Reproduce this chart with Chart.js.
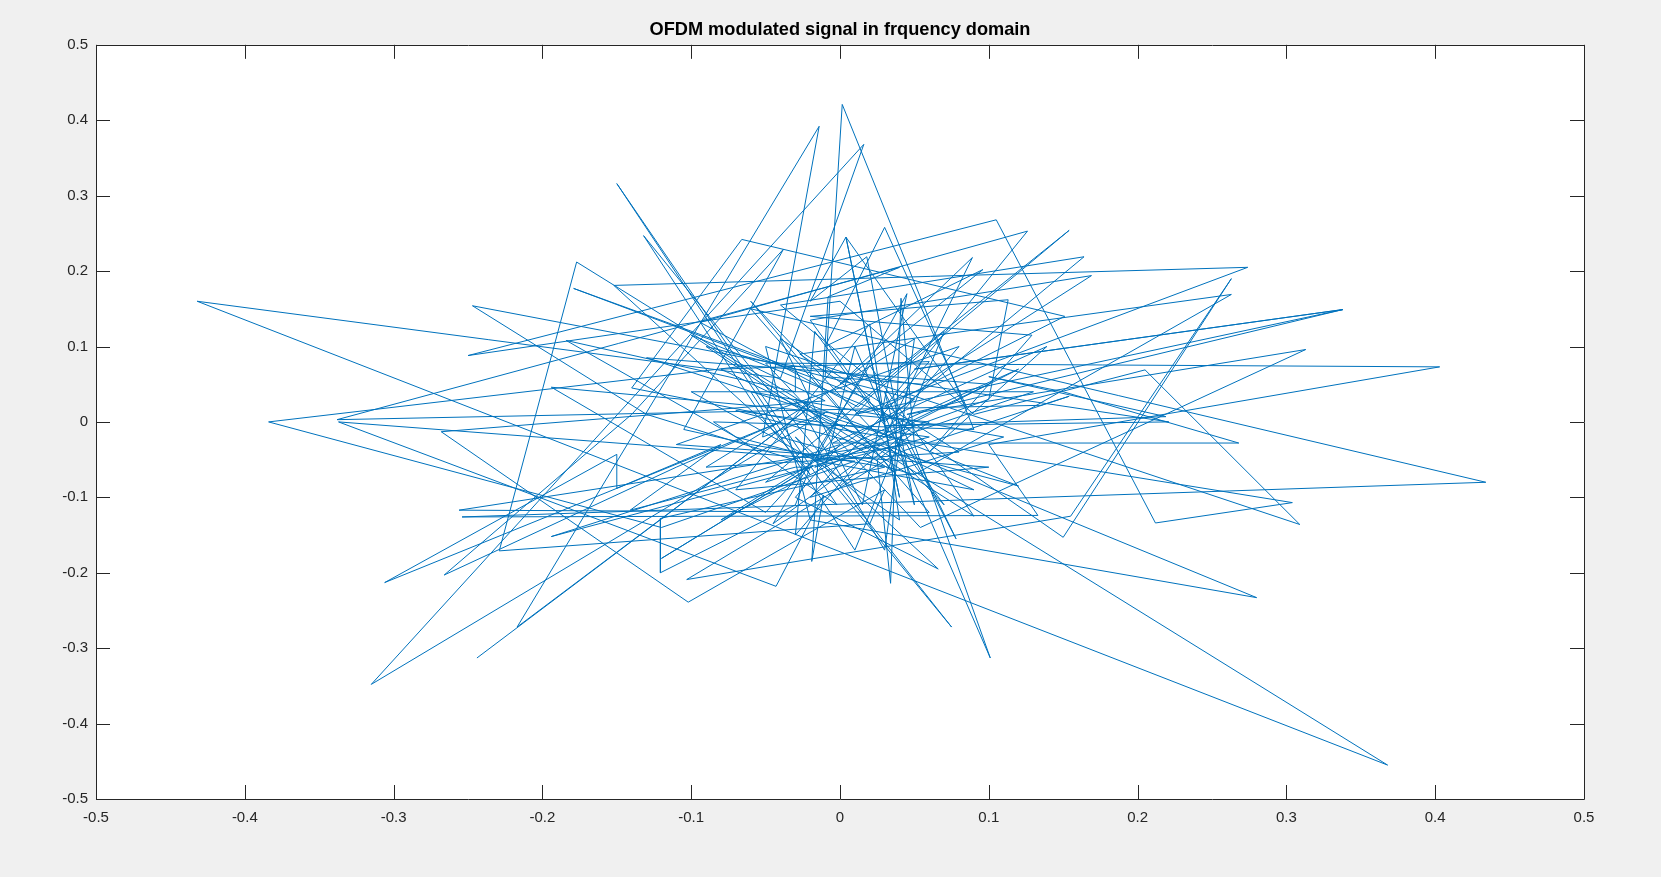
<!DOCTYPE html>
<html>
<head>
<meta charset="utf-8">
<script src="https://cdn.jsdelivr.net/npm/chart.js@4"></script>
<style>
  html, body { margin: 0; padding: 0; background: #f0f0f0; }
  canvas { display: block; }
</style>
</head>
<body>
<canvas id="ofdm" width="1661" height="877"></canvas>
<script>
const title = 'OFDM modulated signal in frquency domain';
const tickValues = [-0.5, -0.4, -0.3, -0.2, -0.1, 0, 0.1, 0.2, 0.3, 0.4, 0.5];

const re = [
  -0.244, -0.020, -0.217, -0.014, -0.052, -0.010, -0.315, 0.016, -0.040, -0.432, 0.368, -0.177,
  -0.229, 0.020, 0.030, -0.102, -0.268, -0.010, -0.060, -0.384, -0.120, 0.010,
  -0.337, -0.043, -0.011, -0.019, -0.008, 0.040, -0.338, 0.135, 0.154, 0.040,
  -0.103, 0.155, 0.263, 0.150, -0.027, 0.263, 0.050, -0.040, -0.152, 0.274,
  0.010, 0.338, 0.050, 0.338, 0.045, 0.313, 0.054, -0.050, 0.403, 0.100,
  0.133, -0.254, 0.434, -0.060, 0.060, -0.256, 0.030, 0.280, -0.020, -0.050,
  0.309, 0.205, 0.090, 0.000, -0.250, 0.105, 0.212, 0.304, 0.000, -0.140,
  -0.066, 0.151, 0.030, 0.126, -0.094, 0.012, 0.154, 0.025, -0.040, 0.164,
  0.030, -0.020, 0.169, 0.055, -0.010, 0.0015, 0.090, -0.085,
  -0.002, -0.150, -0.020, -0.050, -0.132, -0.010, -0.070, -0.184, -0.030, -0.030,
  -0.179, 0.020, -0.050, -0.194, 0.060, 0.025, 0.034, 0.041, 0.050, 0.101,
  0.010, -0.010, 0.075, -0.030, 0.066, -0.030, 0.000, -0.194, -0.020, -0.030,
  -0.141, -0.080, -0.150, -0.150, -0.306, -0.040, -0.110, -0.266, -0.140, -0.038,
  -0.105, -0.060, 0.030, -0.1207, -0.1207, -0.030, -0.020, -0.120, -0.018, -0.130,
  -0.247, -0.050, 0.221, 0.030, 0.219, 0.100, 0.150, 0.268, -0.005, 0.139,
  0.060, 0.129, -0.020, 0.113, 0.100, 0.030, 0.089, 0.000, 0.096, -0.010,
  0.030, 0.085, 0.004, 0.040, 0.004, -0.020, 0.018, 0.050, 0.030, 0.078,
  0.045,
  -0.017, 0.120, -0.080, 0.050, -0.090, 0.035, -0.060, 0.070, -0.017, -0.030,
  0.080, -0.110, 0.100, -0.070, 0.020, 0.040, -0.017, -0.100, 0.130, -0.050,
  0.070, 0.010, -0.060, 0.110, -0.020, 0.060, -0.080, 0.090, -0.017, 0.045,
  0.015, -0.040, 0.080, -0.090, 0.050, 0.030, -0.030, 0.120, -0.070, 0.060,
  -0.017, 0.100, -0.130, 0.035, -0.045, 0.020, 0.090, -0.100, 0.050, 0.000
];
const im = [
  -0.313, 0.020, -0.272, 0.392, -0.020, 0.012, -0.348, 0.368, 0.058, 0.160, -0.455, 0.212,
  -0.171, -0.135, -0.090, -0.239, -0.013, 0.028, 0.075, 0.000, -0.140, -0.052,
  0.000, -0.218, -0.097, -0.185, 0.166, 0.205, 0.003, 0.022, 0.034, -0.040,
  -0.209, -0.125, 0.190, -0.153, 0.090, 0.169, -0.070, -0.020, 0.181, 0.205,
  0.010, 0.149, 0.070, 0.149, 0.010, 0.096, -0.140, 0.078, 0.073, -0.030,
  -0.124, -0.126, -0.080, 0.150, -0.120, -0.117, -0.030, -0.233, -0.130, 0.100,
  -0.136, 0.069, 0.010, 0.160, 0.088, 0.268, -0.134, -0.107, -0.010, 0.045,
  0.242, 0.140, 0.020, 0.253, 0.132, 0.020, 0.254, 0.050, 0.155, 0.219,
  0.000, 0.135, 0.194, 0.050, 0.060, 0.421, -0.010, 0.000,
  -0.110, 0.316, -0.070, 0.000, 0.247, -0.050, -0.020, 0.108, 0.040, 0.070,
  0.177, 0.030, -0.120, 0.046, 0.000, -0.050, -0.214, 0.164, -0.030, -0.313,
  0.100, -0.060, -0.272, -0.020, -0.195, -0.100, -0.030, -0.152, -0.060, -0.060,
  -0.117, -0.030, -0.088, -0.043, -0.213, 0.000, -0.060, -0.203, 0.010, 0.229,
  -0.010, -0.030, -0.060, -0.128, -0.200, -0.110, -0.060, -0.181, -0.058, 0.010,
  0.154, 0.080, 0.000, -0.005, 0.007, 0.060, 0.040, -0.028, -0.028, 0.100,
  -0.040, 0.115, 0.140, 0.162, 0.030, -0.020, 0.218, 0.050, 0.202, 0.100,
  0.258, 0.020, 0.245, -0.100, 0.245, 0.160, 0.219, -0.110, 0.040, -0.155,
  -0.030,
  -0.051, 0.070, -0.130, 0.030, 0.100, -0.065, 0.160, -0.110, 0.120, -0.150,
  0.100, -0.030, -0.060, -0.090, 0.130, -0.130, -0.051, 0.040, 0.040, -0.080,
  0.120, -0.170, 0.040, -0.020, -0.100, 0.080, 0.070, -0.090, -0.051, 0.170,
  -0.110, 0.110, -0.040, -0.060, 0.110, -0.170, 0.030, -0.085, 0.015, -0.020,
  -0.060, 0.050, 0.085, -0.020, -0.135, 0.075, -0.125, 0.115, -0.005, -0.085
];

// matlab style box with the ticks pointing inwards
const boxPlugin = {
  id: 'box',
  beforeDraw(chart) {
    const a = chart.chartArea, ctx = chart.ctx;
    ctx.fillStyle = '#ffffff';
    ctx.fillRect(a.left, a.top, a.right - a.left, a.bottom - a.top);
  },
  afterDraw(chart) {
    const a = chart.chartArea, ctx = chart.ctx;
    ctx.save();
    ctx.strokeStyle = '#262626';
    ctx.lineWidth = 1;
    ctx.beginPath();
    ctx.rect(Math.round(a.left) + 0.5, Math.round(a.top) + 0.5,
      Math.round(a.right - a.left), Math.round(a.bottom - a.top));
    tickValues.forEach(v => {
      const x = Math.round(chart.scales.x.getPixelForValue(v)) + 0.5;
      const y = Math.round(chart.scales.y.getPixelForValue(v)) + 0.5;
      ctx.moveTo(x, a.top); ctx.lineTo(x, a.top + 14);
      ctx.moveTo(x, a.bottom); ctx.lineTo(x, a.bottom - 14);
      ctx.moveTo(a.left, y); ctx.lineTo(a.left + 14, y);
      ctx.moveTo(a.right, y); ctx.lineTo(a.right - 14, y);
    });
    ctx.stroke();
    ctx.restore();
  }
};

const tickFont = { family: '"Liberation Sans", Arial, sans-serif', size: 15 };

new Chart(document.getElementById('ofdm'), {
  type: 'scatter',
  data: {
    datasets: [{
      data: re.map((x, i) => ({ x: x, y: im[i] })),
      showLine: true,
      borderColor: '#0072BD',
      borderWidth: 1,
      pointRadius: 0,
      tension: 0
    }]
  },
  options: {
    responsive: false,
    animation: false,
    devicePixelRatio: 1,
    layout: { padding: { top: 0, right: 77, bottom: 0, left: 0 } },
    plugins: {
      legend: { display: false },
      tooltip: { enabled: false },
      title: {
        display: true,
        text: title,
        fullSize: false,
        color: '#000000',
        font: { family: '"Liberation Sans", Arial, sans-serif', size: 18.2, weight: 'bold' },
        padding: { top: 19, bottom: 4 }
      }
    },
    scales: {
      x: {
        type: 'linear',
        min: -0.5,
        max: 0.5,
        afterBuildTicks: s => { s.ticks = tickValues.map(v => ({ value: v })); },
        afterFit: s => { s.height = 78; },
        grid: { display: false, drawTicks: false },
        border: { display: false },
        ticks: { color: '#262626', font: tickFont, padding: 10, maxRotation: 0, autoSkip: false, callback: v => String(v) }
      },
      y: {
        type: 'linear',
        min: -0.5,
        max: 0.5,
        afterBuildTicks: s => { s.ticks = tickValues.map(v => ({ value: v })); },
        afterFit: s => { s.width = 96; },
        grid: { display: false, drawTicks: false },
        border: { display: false },
        ticks: { color: '#262626', font: tickFont, padding: 8, autoSkip: false, callback: v => String(v) }
      }
    }
  },
  plugins: [boxPlugin]
});
</script>
</body>
</html>
